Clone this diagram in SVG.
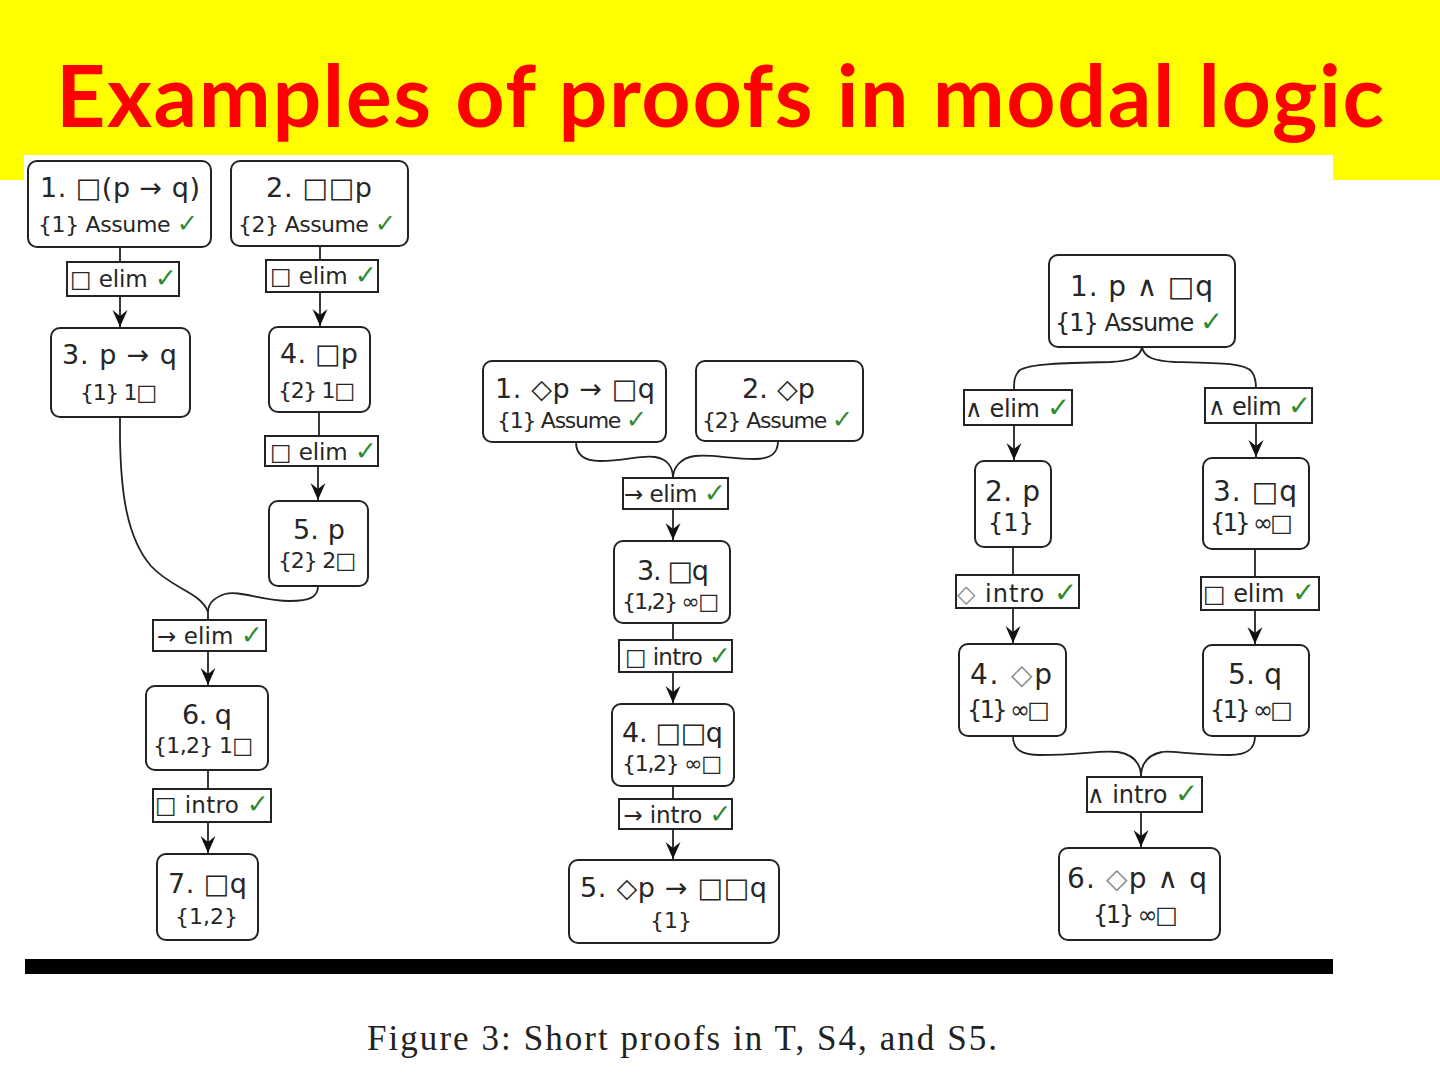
<svg xmlns="http://www.w3.org/2000/svg" width="1440" height="1080" viewBox="0 0 1440 1080">
<defs>
<style>
.n{fill:#fff;stroke:#222;stroke-width:2}
.r{fill:#fff;stroke:#222;stroke-width:2}
.c{fill:none;stroke:#222;stroke-width:1.8}
text{font-family:"DejaVu Sans","Liberation Sans",sans-serif;fill:#262626;text-anchor:middle}
.t1{font-size:27px}
.t2{font-size:22px}
.rt{font-size:23px}
.T1{font-size:28px}
.T2{font-size:24px}
.RT{font-size:24px}
.ck{fill:#2e8b2e;font-weight:700;font-size:1.15em}
.dg{fill:#8a8a8a}
</style>
<marker id="ah" markerUnits="userSpaceOnUse" markerWidth="20" markerHeight="20" viewBox="-18 -10 20 20" refX="0" refY="0" orient="auto">
<path d="M0,0 L-17,-7.5 L-11,0 L-17,7.5 Z" fill="#111"/>
</marker>
</defs>
<rect x="0" y="0" width="1440" height="1080" fill="#fff"/>
<rect x="0" y="0" width="1440" height="180" fill="#ffff00"/>
<rect x="24" y="155" width="1309" height="804" fill="#fff"/>
<rect x="25" y="959" width="1308" height="15" fill="#000"/>
<text x="720" y="127" style="font-family:Lato,'Open Sans','Liberation Sans',sans-serif;font-weight:700;font-size:86px;fill:#ff0000" textLength="1328">Examples of proofs in modal logic</text>
<text x="682" y="1050" style="font-family:'Liberation Serif',serif;font-size:35px;fill:#222" textLength="630">Figure 3: Short proofs in T, S4, and S5.</text>

<g id="connectors">
<!-- T -->
<path class="c" d="M120,247 L120,262"/>
<path class="c" d="M120,296 L120,327" marker-end="url(#ah)"/>
<path class="c" d="M320,246 L320,260"/>
<path class="c" d="M320,292 L320,326" marker-end="url(#ah)"/>
<path class="c" d="M319,412 L319,436"/>
<path class="c" d="M318,466 L318,500" marker-end="url(#ah)"/>
<path class="c" d="M120,417 L120,440 C121,490 126,537 151,566 C172,589 201,592 208,612 L208,620"/>
<path class="c" d="M318,586 C318,597 310,601 290,601 C262,601 240,590 225,594 C213,598 208,605 208,612"/>
<path class="c" d="M208,651 L208,685" marker-end="url(#ah)"/>
<path class="c" d="M208,770 L208,789"/>
<path class="c" d="M208,822 L208,853" marker-end="url(#ah)"/>
<!-- S4 -->
<path class="c" d="M576,442 C576,456 586,461 600,461 C625,461 640,455 655,457 C668,459 673,468 673,478"/>
<path class="c" d="M778,441 C778,454 770,459 755,459 C730,459 712,454 695,456 C680,458 673,468 673,478"/>
<path class="c" d="M673,509 L673,540" marker-end="url(#ah)"/>
<path class="c" d="M673,623 L673,640"/>
<path class="c" d="M673,672 L673,703" marker-end="url(#ah)"/>
<path class="c" d="M673,786 L673,799"/>
<path class="c" d="M673,829 L673,859" marker-end="url(#ah)"/>
<!-- S5 -->
<path class="c" d="M1142,347 C1140,358 1130,361 1110,362 C1060,363 1030,364 1020,370 C1014,375 1014,382 1014,390"/>
<path class="c" d="M1142,347 C1144,358 1155,361 1175,362 C1220,363 1245,363 1252,372 C1256,378 1256,384 1256,388"/>
<path class="c" d="M1014,425 L1014,460" marker-end="url(#ah)"/>
<path class="c" d="M1256,423 L1256,457" marker-end="url(#ah)"/>
<path class="c" d="M1013,547 L1013,575"/>
<path class="c" d="M1013,608 L1013,643" marker-end="url(#ah)"/>
<path class="c" d="M1255,549 L1255,577"/>
<path class="c" d="M1255,610 L1255,644" marker-end="url(#ah)"/>
<path class="c" d="M1013,736 C1013,750 1022,755 1040,755 C1080,755 1100,750 1118,752 C1135,755 1141,765 1141,777"/>
<path class="c" d="M1255,736 C1255,750 1246,755 1230,755 C1190,755 1170,750 1162,752 C1147,755 1141,765 1141,777"/>
<path class="c" d="M1141,812 L1141,847" marker-end="url(#ah)"/>
</g>

<!-- T proof -->
<g id="t-n1"><rect class="n" x="28" y="161" width="183" height="86" rx="9"/>
<text class="t1" x="120" y="197" textLength="160">1. □(p → q)</text>
<text class="t2" x="118" y="232" textLength="160">{1} Assume <tspan class="ck">✓</tspan></text></g>
<g id="t-n2"><rect class="n" x="231" y="161" width="177" height="85" rx="9"/>
<text class="t1" x="319" y="197" textLength="106">2. □□p</text>
<text class="t2" x="317" y="232" textLength="158">{2} Assume <tspan class="ck">✓</tspan></text></g>
<g id="t-r1"><rect class="r" x="67" y="262" width="112" height="34"/>
<text class="rt" x="123.5" y="287" textLength="107">□ elim <tspan class="ck">✓</tspan></text></g>
<g id="t-r2"><rect class="r" x="266" y="260" width="112" height="32"/>
<text class="rt" x="323.5" y="284" textLength="107">□ elim <tspan class="ck">✓</tspan></text></g>
<g id="t-n3"><rect class="n" x="51" y="328" width="139" height="89" rx="9"/>
<text class="t1" x="119.5" y="364" textLength="115">3. p → q</text>
<text class="t2" x="118.5" y="400" textLength="77">{1} 1□</text></g>
<g id="t-n4"><rect class="n" x="269" y="327" width="101" height="85" rx="9"/>
<text class="t1" x="319" y="363" textLength="78">4. □p</text>
<text class="t2" x="316.5" y="398" textLength="77">{2} 1□</text></g>
<g id="t-r3"><rect class="r" x="265" y="436" width="113" height="30"/>
<text class="rt" x="323.5" y="460" textLength="107">□ elim <tspan class="ck">✓</tspan></text></g>
<g id="t-n5"><rect class="n" x="269" y="501" width="99" height="85" rx="9"/>
<text class="t1" x="319" y="539" textLength="52">5. p</text>
<text class="t2" x="317" y="568" textLength="78">{2} 2□</text></g>
<g id="t-r4"><rect class="r" x="153" y="620" width="113" height="31"/>
<text class="rt" x="210" y="644" textLength="106">→ elim <tspan class="ck">✓</tspan></text></g>
<g id="t-n6"><rect class="n" x="146" y="686" width="122" height="84" rx="9"/>
<text class="t1" x="207" y="724" textLength="50">6. q</text>
<text class="t2" x="203" y="753" textLength="100">{1,2} 1□</text></g>
<g id="t-r5"><rect class="r" x="153" y="789" width="118" height="33"/>
<text class="rt" x="212" y="813" textLength="114">□ intro <tspan class="ck">✓</tspan></text></g>
<g id="t-n7"><rect class="n" x="157" y="854" width="101" height="86" rx="9"/>
<text class="t1" x="207.5" y="893" textLength="79">7. □q</text>
<text class="t2" x="206.5" y="924">{1,2}</text></g>

<!-- S4 proof -->
<g id="s4-n1"><rect class="n" x="483" y="361" width="183" height="81" rx="9"/>
<text class="t1" x="575" y="398" textLength="160">1. ◇p → □q</text>
<text class="t2" x="572" y="428" textLength="150">{1} Assume <tspan class="ck">✓</tspan></text></g>
<g id="s4-n2"><rect class="n" x="696" y="361" width="167" height="80" rx="9"/>
<text class="t1" x="778.5" y="398" textLength="73">2. ◇p</text>
<text class="t2" x="777.5" y="428" textLength="151">{2} Assume <tspan class="ck">✓</tspan></text></g>
<g id="s4-r1"><rect class="r" x="623" y="478" width="105" height="31"/>
<text class="rt" x="675" y="502" textLength="102">→ elim <tspan class="ck">✓</tspan></text></g>
<g id="s4-n3"><rect class="n" x="614" y="541" width="116" height="82" rx="9"/>
<text class="t1" x="673" y="580" textLength="72">3. □q</text>
<text class="t2" x="670.5" y="609" textLength="97">{1,2} ∞□</text></g>
<g id="s4-r2"><rect class="r" x="619" y="640" width="113" height="32"/>
<text class="rt" x="678" y="665" textLength="106">□ intro <tspan class="ck">✓</tspan></text></g>
<g id="s4-n4"><rect class="n" x="612" y="704" width="122" height="82" rx="9"/>
<text class="t1" x="672.5" y="742" textLength="101">4. □□q</text>
<text class="t2" x="672" y="771" textLength="100">{1,2} ∞□</text></g>
<g id="s4-r3"><rect class="r" x="619" y="799" width="113" height="30"/>
<text class="rt" x="677.5" y="823" textLength="108">→ intro <tspan class="ck">✓</tspan></text></g>
<g id="s4-n5"><rect class="n" x="569" y="860" width="210" height="83" rx="9"/>
<text class="t1" x="673.5" y="897" textLength="187">5. ◇p → □□q</text>
<text class="t2" x="671" y="928">{1}</text></g>

<!-- S5 proof -->
<g id="s5-n1"><rect class="n" x="1049" y="255" width="186" height="92" rx="9"/>
<text class="T1" x="1141.5" y="296" textLength="143">1. p ∧ □q</text>
<text class="T2" x="1139" y="331" textLength="168">{1} Assume <tspan class="ck">✓</tspan></text></g>
<g id="s5-r1"><rect class="r" x="964" y="390" width="108" height="35"/>
<text class="RT" x="1017.5" y="417" textLength="105">∧ elim <tspan class="ck">✓</tspan></text></g>
<g id="s5-r2"><rect class="r" x="1205" y="388" width="107" height="35"/>
<text class="RT" x="1259.5" y="415" textLength="103">∧ elim <tspan class="ck">✓</tspan></text></g>
<g id="s5-n2"><rect class="n" x="975" y="461" width="76" height="86" rx="9"/>
<text class="T1" x="1012.5" y="501" textLength="55">2. p</text>
<text class="T2" x="1011" y="531">{1}</text></g>
<g id="s5-n3"><rect class="n" x="1203" y="458" width="106" height="91" rx="9"/>
<text class="T1" x="1255" y="501" textLength="84">3. □q</text>
<text class="T2" x="1251.5" y="531" textLength="83">{1} ∞□</text></g>
<g id="s5-r3"><rect class="r" x="956" y="575" width="123" height="33"/>
<text class="RT" x="1017" y="602" textLength="120"><tspan class="dg">◇</tspan> intro <tspan class="ck">✓</tspan></text></g>
<g id="s5-r4"><rect class="r" x="1201" y="577" width="118" height="33"/>
<text class="RT" x="1259" y="602" textLength="112">□ elim <tspan class="ck">✓</tspan></text></g>
<g id="s5-n4"><rect class="n" x="959" y="644" width="107" height="92" rx="9"/>
<text class="T1" x="1011" y="684" textLength="82">4. <tspan class="dg">◇</tspan>p</text>
<text class="T2" x="1008.5" y="718" textLength="83">{1} ∞□</text></g>
<g id="s5-n5"><rect class="n" x="1203" y="645" width="106" height="91" rx="9"/>
<text class="T1" x="1255" y="684" textLength="54">5. q</text>
<text class="T2" x="1251.5" y="718" textLength="83">{1} ∞□</text></g>
<g id="s5-r5"><rect class="r" x="1087" y="777" width="115" height="35"/>
<text class="RT" x="1142.5" y="803" textLength="111">∧ intro <tspan class="ck">✓</tspan></text></g>
<g id="s5-n6"><rect class="n" x="1059" y="848" width="161" height="92" rx="9"/>
<text class="T1" x="1137" y="888" textLength="140">6. <tspan class="dg">◇</tspan>p ∧ q</text>
<text class="T2" x="1135.5" y="923" textLength="85">{1} ∞□</text></g>
</svg>
